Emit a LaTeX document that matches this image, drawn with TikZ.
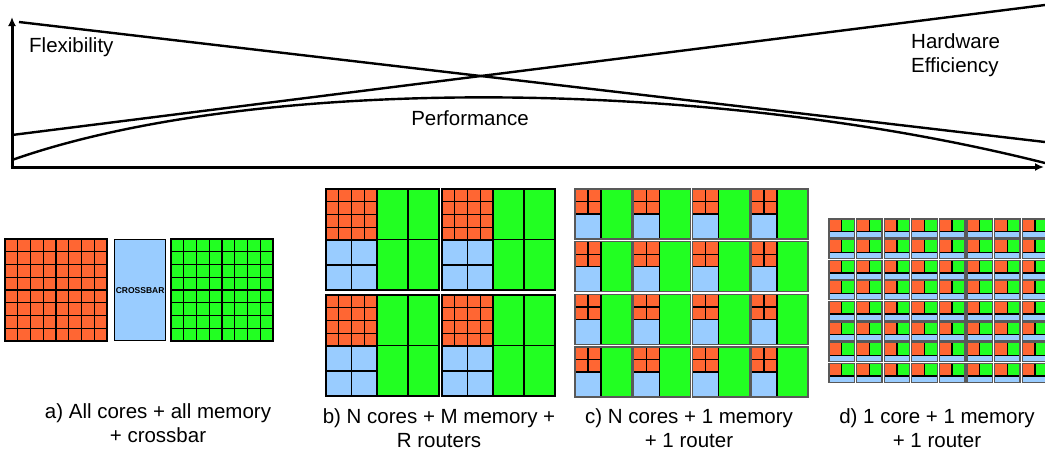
\documentclass[tikz,border=0pt]{standalone}
\usepackage{fontspec}
\setmainfont{Liberation Sans}
\usetikzlibrary{arrows.meta}

\definecolor{coreorange}{RGB}{255,102,51}
\definecolor{memgreen}{RGB}{34,255,34}
\definecolor{routerblue}{RGB}{153,204,255}

\begin{document}
\begin{tikzpicture}[x=1pt,y=-1pt,
        axis/.style={line width=3pt,-{Latex[length=9pt,width=8pt]}},
        trend/.style={line width=2.4pt},
        core/.style={fill=coreorange,draw=black,line width=1.3pt},
        mem/.style={fill=memgreen,draw=black,line width=1.3pt},
        router/.style={fill=routerblue,draw=black,line width=1.3pt},
        tileframe/.style={draw=black!65,line width=1.3pt},
        label/.style={inner sep=0pt,font=\fontsize{20.5}{24}\selectfont},
        caption/.style={label,align=center}]
        \useasboundingbox(0,0)rectangle(1045,451);
        \clip(0,0)rectangle(1045,451);

        % trade-off curves
        \draw[trend](19,22)--(1045,142);
        \draw[trend](12,135)--(1045,5);
        \draw[trend](12,160)..controls(250,76)and(700,76)..(1045,163);
        \draw[axis](12,168.5)--(12,17);
        \draw[axis](10.5,167)--(1044,167);

        \node[label,anchor=west](flex)at(29,47){Flexibility};
        \node[label](perf)at(470,118){Performance};
        \node[label,anchor=west,align=left](hweff)at(911,55){Hardware\\Efficiency};

        % a) cores, crossbar, memory
        \foreach \i in {0,...,7}
            \foreach \j in {0,...,7}{
                \draw[core](5+\i*12.75,239+\j*12.75)rectangle++(12.75,12.75);
                \draw[mem](171+\i*12.75,239+\j*12.75)rectangle++(12.75,12.75);
            }
        \node[router,inner sep=0pt,minimum width=51pt,minimum height=101pt,anchor=north west,
            font=\fontsize{8.5}{9}\selectfont\bfseries](xbar)at(114,239){CROSSBAR};

        % b) 2x2 tiles
        \foreach \tx/\ty in {326/189,442/189,326/295,442/295}{
            \begin{scope}[shift={(\tx,\ty)}]
                \foreach \i in {0,...,3}
                    \foreach \j in {0,...,3}
                        \draw[core](\i*12.75,\j*12.75)rectangle++(12.75,12.75);
                \foreach \i in {0,1}
                    \foreach \j in {0,1}{
                        \draw[router](\i*25.5,51+\j*25)rectangle++(25.5,25);
                        \draw[mem](51+\i*31,\j*50.5)rectangle++(31,50.5);
                    }
            \end{scope}
        }

        % c) 4x4 tiles
        \foreach \i in {0,...,3}
            \foreach \j in {0,...,3}{
                \begin{scope}[shift={(575+\i*58.7,189+\j*52.7)}]
                    \foreach \u in {0,1}
                        \foreach \v in {0,1}
                            \draw[core](\u*13,\v*12.5)rectangle++(13,12.5);
                    \draw[router](0,25)rectangle(26,50);
                    \draw[mem](26,0)rectangle(57,50);
                    \draw[tileframe](0,0)rectangle(57,50);
                \end{scope}
            }

        % d) 8x8 tiles
        \foreach \i in {0,...,7}
            \foreach \j in {0,...,7}{
                \begin{scope}[shift={(829+\i*27.6,219+\j*20.6)}]
                    \draw[core](0,0)rectangle(12.7,12.7);
                    \draw[mem](12.7,0)rectangle(25.5,12.7);
                    \draw[router](0,12.7)rectangle(25.5,19);
                    \draw[tileframe](0,0)rectangle(25.5,19);
                \end{scope}
            }

        \node[caption](capa)at(158,423.5){a) All cores + all memory\\+ crossbar};
        \node[caption](capb)at(439,428.5){b) N cores + M memory +\\R routers};
        \node[caption](capc)at(689,428.5){c) N cores + 1 memory\\+ 1 router};
        \node[caption](capd)at(937,428.5){d) 1 core + 1 memory\\+ 1 router};
    \end{tikzpicture}
\end{document}
